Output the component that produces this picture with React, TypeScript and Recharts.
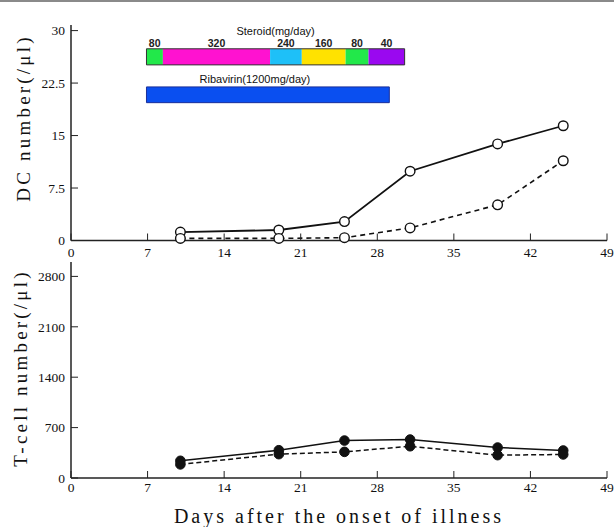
import React from "react";
import {
    LineChart,
    Line,
    XAxis,
    YAxis,
    ReferenceArea,
} from "recharts";

// days after onset at which samples were taken
const days = [10, 19, 25, 31, 39, 45];
const dcSolid = [1.2, 1.5, 2.7, 9.9, 13.8, 16.4];
const dcDashed = [0.3, 0.3, 0.4, 1.8, 5.1, 11.4];
const tSolid = [239, 386, 520, 534, 423, 382];
const tDashed = [189, 331, 363, 441, 317, 327];

const dayTicks = [0, 7, 14, 21, 28, 35, 42, 49];
const dcTicks = [0, 7.5, 15, 22.5, 30];
const tTicks = [0, 700, 1400, 2100, 2800];

// steroid dose schedule (mg/day), start/end in days
const steroidDose = ["80", "320", "240", "160", "80", "40"];
const steroidStart = [6.9, 8.4, 18.2, 21.1, 25.1, 27.2];
const steroidEnd = [8.4, 18.2, 21.1, 25.1, 27.2, 30.5];
const steroidColors = ["#22e84a", "#ff12d0", "#1ec0f8", "#ffe200", "#22e84a", "#9a08f0"];
const ribavirinRange = [6.9, 29.1];

const dcData = days.map((d, i) => ({ day: d, solid: dcSolid[i], dashed: dcDashed[i] }));
const tData = days.map((d, i) => ({ day: d, solid: tSolid[i], dashed: tDashed[i] }));

const SERIF = "'Liberation Serif', 'DejaVu Serif', serif";
const SANS = "'Liberation Sans', Arial, sans-serif";
const tickStyle = { fontFamily: SERIF, fontSize: 13.5, fill: "#111" };

const yTitle = (text: string, x: number, y: number) => () => (
    <text
        x={x}
        y={y}
        transform={`rotate(-90 ${x} ${y})`}
        textAnchor="middle"
        dominantBaseline="central"
        fontFamily={SERIF}
        fontSize={19}
        letterSpacing={3.2}
        fill="#111"
    >
        {text}
    </text>
);

const OpenDot = (props: any) => {
    const { cx, cy } = props;
    if (cx == null || cy == null) return null;
    return <circle cx={cx} cy={cy} r={4.8} fill="#fff" stroke="#111" strokeWidth={1.4} />;
};

const FilledDot = (props: any) => {
    const { cx, cy } = props;
    if (cx == null || cy == null) return null;
    return <circle cx={cx} cy={cy} r={4.8} fill="#111" stroke="#111" />;
};

export default function App() {
    return (
        <div style={{ position: "absolute", left: 0, top: 0, width: 614, height: 527, background: "#fff", overflow: "hidden" }}>
            <div style={{ position: "absolute", left: 0, top: 0, width: 614, height: 2, background: "#8a8a8a" }} />

            <div style={{ position: "absolute", left: 0, top: 0 }}>
                <LineChart width={614} height={262} data={dcData} margin={{ top: 25, right: 7, left: 0, bottom: 0 }}>
                    <XAxis
                        dataKey="day"
                        type="number"
                        domain={[0, 49]}
                        ticks={dayTicks}
                        height={21.5}
                        interval={0}
                        tickSize={-7}
                        tickMargin={14}
                        tick={tickStyle}
                        axisLine={{ stroke: "#222", strokeWidth: 1.5 }}
                        tickLine={{ stroke: "#222" }}
                    />
                    <YAxis
                        type="number"
                        domain={[0, 30.8]}
                        ticks={dcTicks}
                        width={71}
                        interval={0}
                        tickSize={-7}
                        tickMargin={13}
                        tick={tickStyle}
                        axisLine={{ stroke: "#222", strokeWidth: 1.5 }}
                        tickLine={{ stroke: "#222" }}
                        label={{ content: yTitle("DC number(/μl)", 23, 118) }}
                    />
                    {steroidDose.map((dose, i) => (
                        <ReferenceArea
                            key={i}
                            x1={steroidStart[i]}
                            x2={steroidEnd[i]}
                            y1={25.1}
                            y2={27.4}
                            fill={steroidColors[i]}
                            fillOpacity={1}
                            stroke="none"
                            label={{ value: dose, position: "top", offset: 2, fontFamily: SANS, fontSize: 10.5, fontWeight: 600, fill: "#222" }}
                        />
                    ))}
                    <ReferenceArea
                        x1={steroidStart[0]}
                        x2={steroidEnd[steroidEnd.length - 1]}
                        y1={25.1}
                        y2={27.4}
                        fill="none"
                        stroke="#333"
                        strokeWidth={1}
                        label={{ value: "Steroid(mg/day)", position: "top", offset: 14, fontFamily: SANS, fontSize: 11, fill: "#111" }}
                    />
                    <ReferenceArea
                        x1={ribavirinRange[0]}
                        x2={ribavirinRange[1]}
                        y1={19.7}
                        y2={21.95}
                        fill="#0a4ff0"
                        fillOpacity={1}
                        stroke="#1a2f9a"
                        strokeWidth={1}
                        label={(p: any) => {
                            const vb = p.viewBox || {};
                            return (
                                <text
                                    x={vb.x + vb.width / 2 - 13}
                                    y={vb.y - 4}
                                    textAnchor="middle"
                                    fontFamily={SANS}
                                    fontSize={11}
                                    fill="#111"
                                >
                                    Ribavirin(1200mg/day)
                                </text>
                            );
                        }}
                    />
                    <Line
                        dataKey="solid"
                        stroke="#111"
                        strokeWidth={1.8}
                        dot={<OpenDot />}
                        isAnimationActive={false}
                    />
                    <Line
                        dataKey="dashed"
                        stroke="#111"
                        strokeWidth={1.6}
                        strokeDasharray="5 4"
                        dot={<OpenDot />}
                        isAnimationActive={false}
                    />
                </LineChart>
            </div>

            <div style={{ position: "absolute", left: 0, top: 255 }}>
                <LineChart width={614} height={272} data={tData} margin={{ top: 7, right: 7, left: 0, bottom: 0 }}>
                    <XAxis
                        dataKey="day"
                        type="number"
                        domain={[0, 49]}
                        ticks={dayTicks}
                        height={49}
                        interval={0}
                        tickSize={-7}
                        tickMargin={11}
                        tick={tickStyle}
                        axisLine={{ stroke: "#222", strokeWidth: 1.5 }}
                        tickLine={{ stroke: "#222" }}
                        label={{
                            value: "Days after the onset of illness",
                            position: "insideBottom",
                            offset: 4,
                            fontFamily: SERIF,
                            fontSize: 20,
                            letterSpacing: 3,
                            fill: "#111",
                        }}
                    />
                    <YAxis
                        type="number"
                        domain={[0, 3000]}
                        ticks={tTicks}
                        width={71}
                        interval={0}
                        tickSize={-7}
                        tickMargin={13}
                        tick={tickStyle}
                        axisLine={{ stroke: "#222", strokeWidth: 1.5 }}
                        tickLine={{ stroke: "#222" }}
                        label={{ content: yTitle("T-cell number(/μl)", 20, 113) }}
                    />
                    <Line
                        dataKey="solid"
                        stroke="#111"
                        strokeWidth={1.5}
                        dot={<FilledDot />}
                        isAnimationActive={false}
                    />
                    <Line
                        dataKey="dashed"
                        stroke="#111"
                        strokeWidth={1.5}
                        strokeDasharray="5 3"
                        dot={<FilledDot />}
                        isAnimationActive={false}
                    />
                </LineChart>
            </div>
        </div>
    );
}
